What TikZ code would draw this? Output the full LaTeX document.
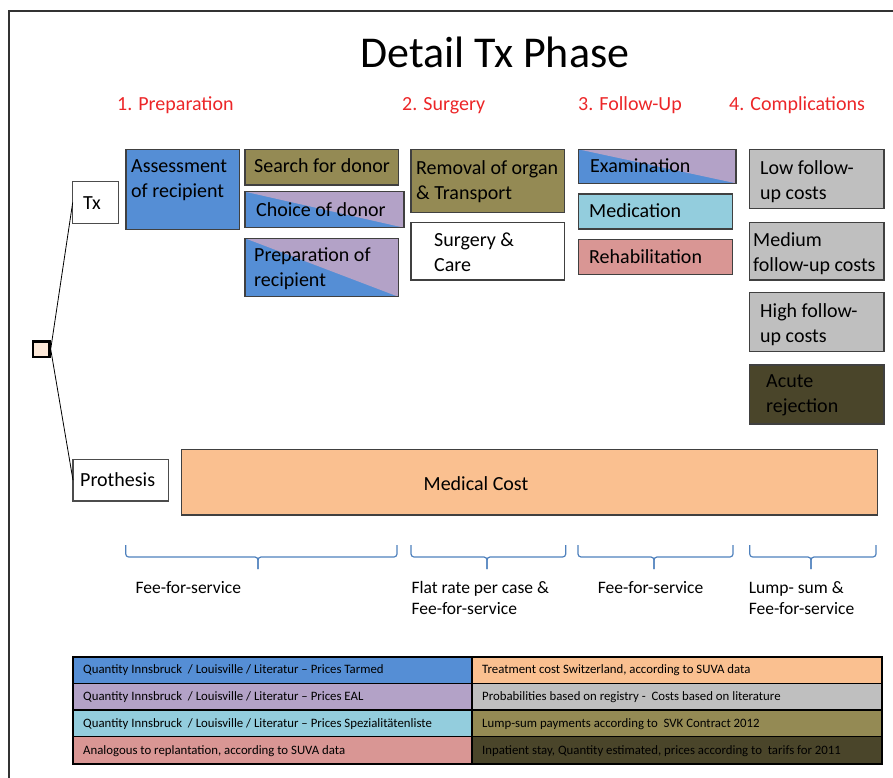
\documentclass[tikz,border=0pt]{standalone}
\usepackage{fontspec}
\setmainfont{Carlito}
\begin{document}
\definecolor{qblue}{RGB}{85,142,213}
\definecolor{qpurple}{RGB}{179,162,199}
\definecolor{qolive}{RGB}{148,138,84}
\definecolor{qcyan}{RGB}{147,205,221}
\definecolor{qpink}{RGB}{217,150,148}
\definecolor{qpeach}{RGB}{250,192,144}
\definecolor{qgray}{RGB}{191,191,191}
\definecolor{qdark}{RGB}{74,69,42}
\definecolor{qsquare}{RGB}{253,233,217}
\definecolor{edgegray}{RGB}{64,64,64}
\definecolor{phasered}{RGB}{236,38,40}
\definecolor{bracecol}{RGB}{79,129,189}
\tikzset{
  cell/.style={draw=edgegray, line width=1.2pt, anchor=north west, inner sep=0pt, outer sep=0pt},
  twotone/.style={fill=qblue, path picture={\fill[qpurple] (path picture bounding box.north west) -- (path picture bounding box.north east) -- (path picture bounding box.south east) -- cycle;}},
  lbl/.style={inner sep=0pt, anchor=north west, align=left, font=\fontsize{20}{25}\selectfont, execute at begin node=\strut},
  phase/.style={inner sep=0pt, anchor=base west, text=phasered, font=\fontsize{20}{25}\selectfont},
  paylbl/.style={inner sep=0pt, anchor=north west, align=left, font=\fontsize{17.5}{21}\selectfont, execute at begin node=\strut},
  bracket/.style={draw=bracecol, line width=1.2pt, rounded corners=3pt},
  keycell/.style={draw=black, line width=1.3pt, anchor=north west, inner sep=0pt, outer sep=0pt},
  keylbl/.style={inner sep=0pt, anchor=base west, font=\fontsize{12.8}{15}\selectfont},
  branch/.style={draw=black, line width=0.8pt}
}
\begin{tikzpicture}[x=1pt,y=-1pt]
\useasboundingbox (0,0) rectangle (893,778);
% page frame
\draw[line width=1.8pt, draw=black!80] (9,778) -- (9,11) -- (893,11);

% title and phase headings
\node[inner sep=0pt, anchor=base, font=\fontsize{44}{52}\selectfont] (title) at (495,68) {Detail Tx Phase};
\node[phase] (ph1) at (117,111) {1. Preparation};
\node[phase] (ph2) at (402,111) {2. Surgery};
\node[phase] (ph3) at (578,111) {3. Follow-Up};
\node[phase] (ph4) at (729,111) {4. Complications};

% decision node and branches
\node[draw=black, line width=2.7pt, fill=qsquare, minimum width=16.3pt, minimum height=15.7pt, inner sep=0pt] (dec) at (41.2,349.2) {};
\node[cell, draw=black!70, fill=white, minimum width=46pt, minimum height=41.6pt] (tx) at (72.7,181.7) {};
\node[lbl] (txT) at (83,191.5) {Tx};
\node[cell, draw=black!70, fill=white, minimum width=95.6pt, minimum height=41.7pt] (pro) at (73,459.3) {};
\node[lbl] (proT) at (80,468.5) {Prothesis};
\draw[branch] (dec.east) -- (tx.west);
\draw[branch] (dec.east) -- (pro.west);

% 1. preparation
\node[cell, fill=qblue, minimum width=113.3pt, minimum height=80pt] (asm) at (126,149.3) {};
\node[lbl] (asmT) at (131,159.5) {Assessment\\of recipient};
\node[cell, fill=qolive, minimum width=153.3pt, minimum height=35.7pt] (search) at (245,149.3) {};
\node[lbl] (searchT) at (254,155) {Search for donor};
\node[cell, twotone, minimum width=159pt, minimum height=36pt] (choice) at (245,191.7) {};
\node[lbl] (choiceT) at (256,198.5) {Choice of donor};
\node[cell, twotone, minimum width=153.3pt, minimum height=58.4pt] (prep) at (245,238.3) {};
\node[lbl] (prepT) at (254,247) {Preparation of\\recipient};

% 2. surgery
\node[cell, fill=qolive, minimum width=153.3pt, minimum height=63pt] (remov) at (411,149.3) {};
\node[lbl] (removT) at (416,160) {Removal of organ\\\& Transport};
\node[cell, fill=white, minimum width=153.3pt, minimum height=57.3pt] (surg) at (411,222.7) {};
\node[lbl] (surgT) at (434,233) {Surgery \&\\Care};

% 3. follow-up
\node[cell, twotone, minimum width=157.7pt, minimum height=34pt] (exam) at (578.3,149.3) {};
\node[lbl] (examT) at (590,155) {Examination};
\node[cell, fill=qcyan, minimum width=154pt, minimum height=35pt] (medi) at (578.3,194) {};
\node[lbl] (mediT) at (589,200) {Medication};
\node[cell, fill=qpink, minimum width=154pt, minimum height=35pt] (reha) at (578.3,239.3) {};
\node[lbl] (rehaT) at (589,246) {Rehabilitation};

% 4. complications
\node[cell, fill=qgray, minimum width=134.7pt, minimum height=59pt] (low) at (749.3,149.3) {};
\node[lbl] (lowT) at (760,160.5) {Low follow-\\up costs};
\node[cell, fill=qgray, minimum width=134.7pt, minimum height=57.3pt] (med) at (749.3,222.7) {};
\node[lbl] (medT) at (753,232) {Medium\\follow-up costs};
\node[cell, fill=qgray, minimum width=134.7pt, minimum height=59pt] (high) at (749.3,292.7) {};
\node[lbl] (highT) at (760,303) {High follow-\\up costs};
\node[cell, fill=qdark, minimum width=134.7pt, minimum height=59pt] (acute) at (749.3,365) {};
\node[lbl] (acuteT) at (766,374) {Acute\\rejection};

% prosthesis branch cost
\node[cell, fill=qpeach, minimum width=696pt, minimum height=65.7pt] (mc) at (181.5,449.3) {};
\node[inner sep=0pt, anchor=base, font=\fontsize{20}{25}\selectfont] (mcT) at (476,490) {Medical Cost};

% payment brackets
\draw[bracket] (125.7,545) |- (258,557) -- (258,569);
\draw[bracket] (258,569) -- (258,557) -| (397,545);
\draw[bracket] (411,545) |- (487,557) -- (487,569);
\draw[bracket] (487,569) -- (487,557) -| (565.7,545);
\draw[bracket] (578,545) |- (654,557) -- (654,569);
\draw[bracket] (654,569) -- (654,557) -| (733,545);
\draw[bracket] (749.7,545) |- (811,557) -- (811,569);
\draw[bracket] (811,569) -- (811,557) -| (876,545);
\node[paylbl] (pay1) at (135.4,578.3) {Fee-for-service};
\node[paylbl] (pay2) at (411.4,581.3) {Flat rate per case \&\\Fee-for-service};
\node[paylbl] (pay3) at (597.7,578.3) {Fee-for-service};
\node[paylbl] (pay4) at (748.6,581.3) {Lump- sum \&\\Fee-for-service};

% data sources
\node[keycell, fill=qblue, minimum width=399pt, minimum height=26.7pt] (k1) at (73,656.7) {};
\node[keycell, fill=qpurple, minimum width=399pt, minimum height=26.7pt] (k2) at (73,683.4) {};
\node[keycell, fill=qcyan, minimum width=399pt, minimum height=26.6pt] (k3) at (73,710.1) {};
\node[keycell, fill=qpink, minimum width=399pt, minimum height=27.1pt] (k4) at (73,736.7) {};
\node[keycell, fill=qpeach, minimum width=409.7pt, minimum height=26.7pt] (k5) at (472,656.7) {};
\node[keycell, fill=qgray, minimum width=409.7pt, minimum height=26.7pt] (k6) at (472,683.4) {};
\node[keycell, fill=qolive, minimum width=409.7pt, minimum height=26.6pt] (k7) at (472,710.1) {};
\node[keycell, fill=qdark, minimum width=409.7pt, minimum height=27.1pt] (k8) at (472,736.7) {};
\draw[line width=2pt] (k1.north west) rectangle (k8.south east);
\node[keylbl] (k1T) at (83,673.8) {Quantity Innsbruck\ \ / Louisville / Literatur -- Prices Tarmed};
\node[keylbl] (k2T) at (83,700.7) {Quantity Innsbruck\ \ / Louisville / Literatur -- Prices EAL};
\node[keylbl] (k3T) at (83,727.5) {Quantity Innsbruck\ \ / Louisville / Literatur -- Prices Spezialitätenliste};
\node[keylbl] (k4T) at (83,754.5) {Analogous to replantation, according to SUVA data};
\node[keylbl] (k5T) at (482,673.8) {Treatment cost Switzerland, according to SUVA data};
\node[keylbl] (k6T) at (482,700.7) {Probabilities based on registry -\ \ Costs based on literature};
\node[keylbl] (k7T) at (482,727.5) {Lump-sum payments according to\ \ SVK Contract 2012};
\node[keylbl] (k8T) at (482,754.5) {Inpatient stay, Quantity estimated, prices according to\ \ tarifs for 2011};
\end{tikzpicture}
\end{document}
